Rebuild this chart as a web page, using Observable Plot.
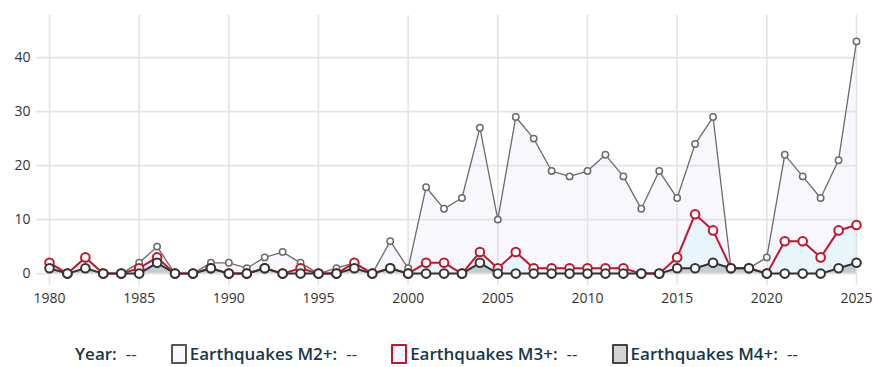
<!DOCTYPE html>
<html>
<head>
<meta charset="utf-8">
<script src="https://cdn.jsdelivr.net/npm/d3@7"></script>
<script src="https://cdn.jsdelivr.net/npm/@observablehq/plot@0.6"></script>
<style>
  html, body { margin: 0; padding: 0; background: #fff; }
  #chart { width: 873px; height: 320px; }
  #legend {
    width: 873px; display: flex; justify-content: center; align-items: center;
    gap: 34px; margin-top: 24px; line-height: 20px;
    font-family: "Open Sans", sans-serif; font-size: 17px; font-weight: 600;
    color: #17384a; letter-spacing: 0px;
  }
  .item { display: flex; align-items: center; white-space: nowrap; }
  .sw { width: 12px; height: 16px; border: 2px solid #555; border-radius: 1px; margin-right: 3px; box-sizing: content-box; }
  .val { margin-left: 9px; font-weight: 400; }
</style>
</head>
<body>
<div id="chart"></div>
<div id="legend"></div>
<script>
const years = [1980,1981,1982,1983,1984,1985,1986,1987,1988,1989,
               1990,1991,1992,1993,1994,1995,1996,1997,1998,1999,
               2000,2001,2002,2003,2004,2005,2006,2007,2008,2009,
               2010,2011,2012,2013,2014,2015,2016,2017,2018,2019,
               2020,2021,2022,2023,2024,2025];
const m2 = [2,0,3,0,0,2,5,0,0,2, 2,1,3,4,2,0,1,2,0,6, 1,16,12,14,27,10,29,25,19,18, 19,22,18,12,19,14,24,29,1,1, 3,22,18,14,21,43];
const m3 = [2,0,3,0,0,1,3,0,0,1, 0,0,1,0,1,0,0,2,0,1, 0,2,2,0,4,1,4,1,1,1, 1,1,1,0,0,3,11,8,1,1, 0,6,6,3,8,9];
const m4 = [1,0,1,0,0,0,2,0,0,1, 0,0,1,0,0,0,0,1,0,1, 0,0,0,0,2,0,0,0,0,0, 0,0,0,0,0,1,1,2,1,1, 0,0,0,0,1,2];
const xTicks = [1980,1985,1990,1995,2000,2005,2010,2015,2020,2025];
const yTicks = [0,10,20,30,40];
const seriesNames = ["Earthquakes M2+", "Earthquakes M3+", "Earthquakes M4+"];

const data = years.map((y, i) => ({year: y, m2: m2[i], m3: m3[i], m4: m4[i]}));

const yLo = -2.2, yHi = 47.8;
const c2 = "#6b6b6b", c3 = "#c4162a", c4 = "#333333";

const chart = Plot.plot({
  width: 873, height: 320,
  marginLeft: 49, marginRight: 17, marginTop: 15, marginBottom: 35,
  x: {domain: [1980, 2025]},
  y: {domain: [yLo, yHi]},
  style: {fontFamily: "'Open Sans', sans-serif", fontSize: "14px", color: "#333", background: "#fff"},
  marks: [
    Plot.areaY(data, {x: "year", y: "m2", fill: "#f7f7fd"}),
    Plot.areaY(data, {x: "year", y: "m3", fill: "#e8f6fc"}),
    Plot.areaY(data, {x: "year", y: "m4", fill: "#c3cdd0"}),
    Plot.ruleY(yTicks, {y: d => d, x1: 1979.28, x2: 2025, stroke: "#e3e3e3", strokeWidth: 1.6}),
    Plot.ruleX(xTicks, {x: d => d, y1: yLo, y2: yHi, stroke: "#e3e3e3", strokeWidth: 1.6}),
    Plot.lineY(data, {x: "year", y: "m2", stroke: c2, strokeWidth: 1.3}),
    Plot.dot(data, {x: "year", y: "m2", r: 3.2, stroke: c2, strokeWidth: 1.5, fill: "#fff"}),
    Plot.lineY(data, {x: "year", y: "m3", stroke: c3, strokeWidth: 2}),
    Plot.dot(data, {x: "year", y: "m3", r: 4.3, stroke: c3, strokeWidth: 2, fill: "#fff"}),
    Plot.lineY(data, {x: "year", y: "m4", stroke: c4, strokeWidth: 2}),
    Plot.dot(data, {x: "year", y: "m4", r: 4.3, stroke: c4, strokeWidth: 2, fill: "#fff"}),
    Plot.axisX({ticks: xTicks, tickSize: 0, tickPadding: 8, tickFormat: d => String(d), label: null}),
    Plot.axisY({ticks: yTicks, tickSize: 0, tickPadding: 19, label: null})
  ]
});
document.getElementById("chart").appendChild(chart);

const legend = document.getElementById("legend");
const items = [
  {label: "Year", sw: null},
  {label: seriesNames[0], sw: {border: "#555", fill: "#f8f8fd"}},
  {label: seriesNames[1], sw: {border: c3, fill: "#eef8fd"}},
  {label: seriesNames[2], sw: {border: "#444", fill: "#d4d4d4"}}
];
for (const it of items) {
  const d = document.createElement("div");
  d.className = "item";
  if (it.sw) {
    const s = document.createElement("span");
    s.className = "sw";
    s.style.borderColor = it.sw.border;
    s.style.background = it.sw.fill;
    d.appendChild(s);
  }
  const t = document.createElement("span");
  t.textContent = it.label + ":";
  d.appendChild(t);
  const v = document.createElement("span");
  v.className = "val";
  v.textContent = "--";
  d.appendChild(v);
  legend.appendChild(d);
}
</script>
</body>
</html>
